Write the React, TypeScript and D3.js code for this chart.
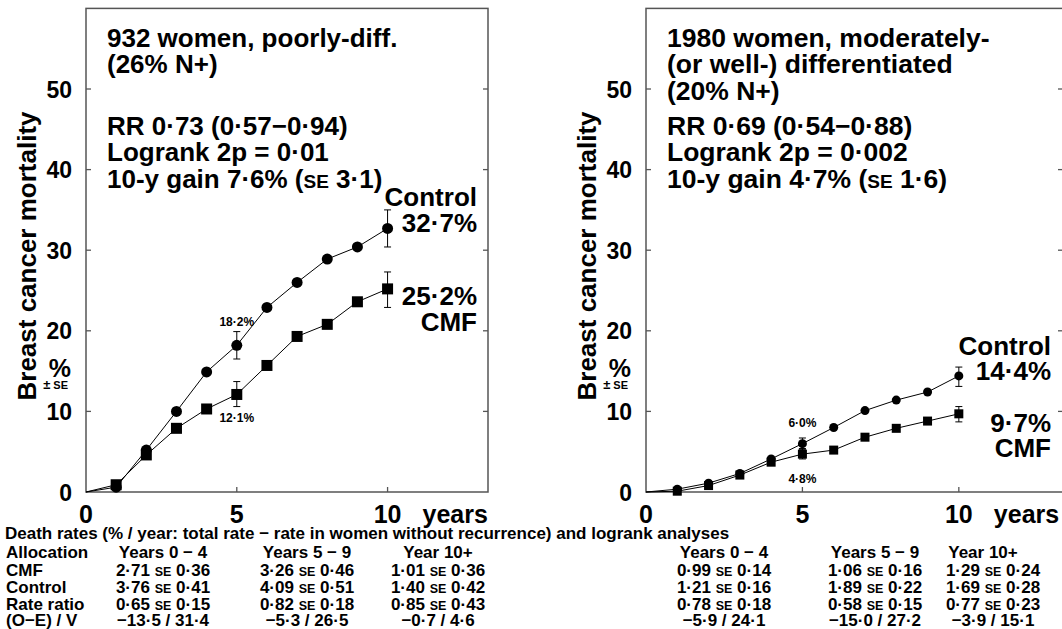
import React from 'react';
import * as d3 from 'd3';

const F = "'Liberation Sans', Arial, Helvetica, sans-serif";

const years = [0, 1, 2, 3, 4, 5, 6, 7, 8, 9, 10];
const yTicks = [0, 10, 20, 30, 40, 50];
const xTicks = [0, 5, 10];

// Left panel: poorly differentiated
const leftControl = [0, 0.6, 5.2, 10.0, 14.9, 18.2, 22.9, 26.0, 28.9, 30.4, 32.7];
const leftCMF = [0, 0.9, 4.6, 7.9, 10.3, 12.1, 15.7, 19.3, 20.8, 23.6, 25.2];
const leftControlErr = [{ year: 5, lo: 16.5, hi: 19.9 }, { year: 10, lo: 30.4, hi: 35.0 }];
const leftCMFErr = [{ year: 5, lo: 10.6, hi: 13.7 }, { year: 10, lo: 22.9, hi: 27.3 }];
const leftTitle = ['932 women, poorly-diff.', '(26% N+)'];
const leftStats = ['RR 0·73 (0·57−0·94)', 'Logrank 2p = 0·01', '10-y gain 7·6% (SE 3·1)'];

// Right panel: moderately or well differentiated
const rightControl = [0, 0.35, 1.1, 2.3, 4.1, 6.0, 8.0, 10.1, 11.4, 12.4, 14.4];
const rightCMF = [0, 0.1, 0.8, 2.1, 3.7, 4.7, 5.2, 6.8, 7.9, 8.8, 9.7];
const rightControlErr = [{ year: 5, lo: 5.3, hi: 6.7 }, { year: 10, lo: 13.1, hi: 15.5 }];
const rightCMFErr = [{ year: 5, lo: 4.1, hi: 5.4 }, { year: 10, lo: 8.7, hi: 10.6 }];
const rightTitle = ['1980 women, moderately-', '(or well-) differentiated', '(20% N+)'];
const rightStats = ['RR 0·69 (0·54−0·88)', 'Logrank 2p = 0·002', '10-y gain 4·7% (SE 1·6)'];

// Table
const tableTitle = 'Death rates (% / year: total rate − rate in women without recurrence) and logrank analyses';
const tableHeader = ['Years 0 − 4', 'Years 5 − 9', 'Year 10+'];
const rowLabels = ['Allocation', 'CMF', 'Control', 'Rate ratio', '(O−E) / V'];
const leftRows = [
  ['2·71 SE 0·36', '3·26 SE 0·46', '1·01 SE 0·36'],
  ['3·76 SE 0·41', '4·09 SE 0·51', '1·40 SE 0·42'],
  ['0·65 SE 0·15', '0·82 SE 0·18', '0·85 SE 0·43'],
  ['−13·5 / 31·4', '−5·3 / 26·5', '−0·7 / 4·6'],
];
const rightRows = [
  ['0·99 SE 0·14', '1·06 SE 0·16', '1·29 SE 0·24'],
  ['1·21 SE 0·16', '1·89 SE 0·22', '1·69 SE 0·28'],
  ['0·78 SE 0·18', '0·58 SE 0·15', '0·77 SE 0·23'],
  ['−5·9 / 24·1', '−15·0 / 27·2', '−3·9 / 15·1'],
];

function SEText({ x, y, text, size, small, anchor = 'start' }: any) {
  const parts = text.split('SE');
  return (
    <text x={x} y={y} fontSize={size} fontWeight="bold" fontFamily={F} textAnchor={anchor} fill="#000">
      {parts.map((p: string, i: number) => (
        <React.Fragment key={i}>
          {i > 0 && <tspan fontSize={small}>SE</tspan>}
          {p && <tspan>{p}</tspan>}
        </React.Fragment>
      ))}
    </text>
  );
}

function Panel(props: any) {
  const { x0, x1, control, cmf, controlErr, cmfErr, title, stats, r, sq, labels, titleSize } = props;
  const x = d3.scaleLinear().domain([0, 13.33]).range([x0, x1]);
  const y = d3.scaleLinear().domain([0, 60]).range([492, 8.4]);
  const line = d3.line<number>().x((_, i) => x(years[i])).y((d) => y(d));
  const frame = '#555';
  const tx = x0 + 21;
  return (
    <g>
      <rect x={x0} y={y(60)} width={x1 - x0} height={y(0) - y(60)} fill="none" stroke={frame} strokeWidth={1.5} />
      {yTicks.filter((t) => t > 0).map((t) => (
        <g key={t}>
          <line x1={x0} x2={x0 + 5} y1={y(t)} y2={y(t)} stroke={frame} strokeWidth={1.3} />
          <line x1={x1 - 5} x2={x1} y1={y(t)} y2={y(t)} stroke={frame} strokeWidth={1.3} />
        </g>
      ))}
      {xTicks.filter((t) => t > 0).map((t) => (
        <line key={t} x1={x(t)} x2={x(t)} y1={y(0)} y2={y(0) - 5} stroke={frame} strokeWidth={1.3} />
      ))}
      {yTicks.map((t) => (
        <text key={t} x={x0 - 14} y={y(t) + 8.5} fontSize={23} fontWeight="bold" fontFamily={F} textAnchor="end">{t}</text>
      ))}
      {xTicks.map((t) => (
        <text key={t} x={x(t)} y={523} fontSize={25} fontWeight="bold" fontFamily={F} textAnchor="middle">{t}</text>
      ))}
      <text x={x(10) + 35} y={523} fontSize={25} fontWeight="bold" fontFamily={F}>years</text>
      <text transform={`translate(${x0 - 50},${256}) rotate(-90)`} fontSize={26} fontWeight="bold" fontFamily={F} textAnchor="middle">Breast cancer mortality</text>
      <text x={x0 - 15} y={377} fontSize={25} fontWeight="bold" fontFamily={F} textAnchor="end">%</text>
      <text x={x0 - 18} y={389} fontWeight="bold" fontFamily={F} textAnchor="end">
        <tspan fontSize={13}>±</tspan><tspan fontSize={11} dx={3}>SE</tspan>
      </text>
      {title.map((t: string, i: number) => (
        <text key={t} x={tx} y={46.7 + i * 26.5} fontSize={titleSize} fontWeight="bold" fontFamily={F}>{t}</text>
      ))}
      {stats.map((t: string, i: number) => (
        <SEText key={t} x={tx} y={134.5 + i * 26.8} text={t} size={titleSize} small={19} />
      ))}
      <path d={line(control) || ''} fill="none" stroke="#000" strokeWidth={1} />
      <path d={line(cmf) || ''} fill="none" stroke="#000" strokeWidth={1} />
      {[...controlErr, ...cmfErr].map((e: any, i: number) => (
        <g key={i} stroke="#000" strokeWidth={1}>
          <line x1={x(e.year)} x2={x(e.year)} y1={y(e.lo)} y2={y(e.hi)} />
          <line x1={x(e.year) - 3.5} x2={x(e.year) + 3.5} y1={y(e.lo)} y2={y(e.lo)} />
          <line x1={x(e.year) - 3.5} x2={x(e.year) + 3.5} y1={y(e.hi)} y2={y(e.hi)} />
        </g>
      ))}
      {control.map((v: number, i: number) => (i > 0 ? <circle key={i} cx={x(years[i])} cy={y(v)} r={r} fill="#000" /> : null))}
      {cmf.map((v: number, i: number) => (i > 0 ? <rect key={i} x={x(years[i]) - sq / 2} y={y(v) - sq / 2} width={sq} height={sq} fill="#000" /> : null))}
      {labels.map((l: any, i: number) => (
        <text key={i} x={l.x} y={l.y} fontSize={l.size} fontWeight="bold" fontFamily={F} textAnchor={l.anchor}>{l.text}</text>
      ))}
    </g>
  );
}

export default function App() {
  const xl = d3.scaleLinear().domain([0, 13.33]).range([86, 488]);
  const xr = d3.scaleLinear().domain([0, 13.33]).range([646, 1063]);
  const leftLabels = [
    { x: 477, y: 205.5, text: 'Control', size: 26, anchor: 'end' },
    { x: 477, y: 231.5, text: '32·7%', size: 26, anchor: 'end' },
    { x: 477, y: 305, text: '25·2%', size: 26, anchor: 'end' },
    { x: 477, y: 330.5, text: 'CMF', size: 26, anchor: 'end' },
    { x: xl(5), y: 326, text: '18·2%', size: 12, anchor: 'middle' },
    { x: xl(5), y: 422, text: '12·1%', size: 12, anchor: 'middle' },
  ];
  const rightLabels = [
    { x: 1051, y: 355, text: 'Control', size: 26, anchor: 'end' },
    { x: 1051, y: 380, text: '14·4%', size: 26, anchor: 'end' },
    { x: 1051, y: 432, text: '9·7%', size: 26, anchor: 'end' },
    { x: 1051, y: 457, text: 'CMF', size: 26, anchor: 'end' },
    { x: xr(5), y: 427, text: '6·0%', size: 12, anchor: 'middle' },
    { x: xr(5), y: 483, text: '4·8%', size: 12, anchor: 'middle' },
  ];
  const rowY = [558, 576, 593, 609.5, 625.5];
  const leftCols = [163, 307, 438];
  const rightCols = [724, 875, 993];
  const rightHeadCols = [724, 875, 983];
  const ts = 17;
  return (
    <svg width={1062} height={629} style={{ position: 'absolute', left: 0, top: 0, background: '#fff' }}>
      <rect width={1062} height={629} fill="#fff" />
      <Panel x0={86} x1={488} control={leftControl} cmf={leftCMF} controlErr={leftControlErr} cmfErr={leftCMFErr}
        title={leftTitle} stats={leftStats} r={5.5} sq={11} labels={leftLabels} titleSize={26} />
      <Panel x0={646} x1={1063} control={rightControl} cmf={rightCMF} controlErr={rightControlErr} cmfErr={rightCMFErr}
        title={rightTitle} stats={rightStats} r={4.5} sq={9} labels={rightLabels} titleSize={26.5} />
      <text x={5} y={539} fontSize={ts} fontWeight="bold" fontFamily={F}>{tableTitle}</text>
      {rowLabels.map((l, i) => (
        <text key={l} x={6} y={rowY[i]} fontSize={ts} fontWeight="bold" fontFamily={F}>{l}</text>
      ))}
      {tableHeader.map((h, j) => (
        <g key={h}>
          <text x={leftCols[j]} y={rowY[0]} fontSize={ts} fontWeight="bold" fontFamily={F} textAnchor="middle">{h}</text>
          <text x={rightHeadCols[j]} y={rowY[0]} fontSize={ts} fontWeight="bold" fontFamily={F} textAnchor="middle">{h}</text>
        </g>
      ))}
      {leftRows.map((row, i) => row.map((c, j) => (
        <SEText key={`l${i}${j}`} x={leftCols[j]} y={rowY[i + 1]} text={c} size={ts} small={12.5} anchor="middle" />
      )))}
      {rightRows.map((row, i) => row.map((c, j) => (
        <SEText key={`r${i}${j}`} x={rightCols[j]} y={rowY[i + 1]} text={c} size={ts} small={12.5} anchor="middle" />
      )))}
    </svg>
  );
}
